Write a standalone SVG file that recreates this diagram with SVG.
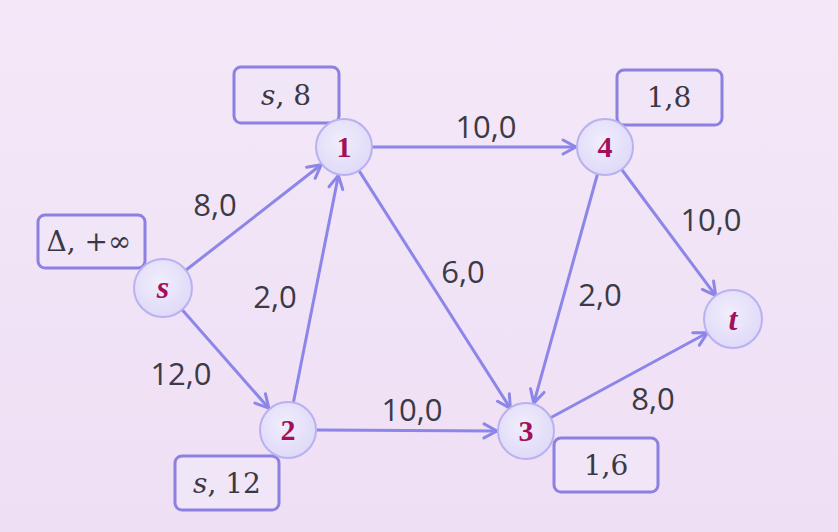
<svg xmlns="http://www.w3.org/2000/svg" width="838" height="532" viewBox="0 0 838 532">
<defs>
<linearGradient id="bg" x1="0" y1="0" x2="0" y2="1">
<stop offset="0" stop-color="#f3e8f8"/>
<stop offset="1" stop-color="#efdff5"/>
</linearGradient>
<radialGradient id="nodefill" cx="0.45" cy="0.4" r="0.7">
<stop offset="0" stop-color="#f1eefc"/>
<stop offset="1" stop-color="#dcd6f7"/>
</radialGradient>
<marker id="arr" markerUnits="userSpaceOnUse" markerWidth="20" markerHeight="20" viewBox="-16 -10 20 20" refX="0" refY="0" orient="auto">
<path d="M-13,-7 L0,0 L-13,7" fill="none" stroke="#8c86e8" stroke-width="3" stroke-linecap="round" stroke-linejoin="round"/>
</marker>
<style>
.node circle{fill:url(#nodefill);stroke:#b9b1f0;stroke-width:2}
.node text{font-family:"Liberation Serif","DejaVu Serif",serif;font-weight:bold;font-size:30px;fill:#a3105a;text-anchor:middle}
.node text.it{font-style:italic;font-size:32px}
.edges line{stroke:#8c86e8;stroke-width:3;marker-end:url(#arr)}
.elabel{font-family:"Open Sans","DejaVu Sans",sans-serif;font-size:31px;fill:#3c3a46;text-anchor:middle}
.box rect{fill:#f1e5f8;stroke:#8c80e0;stroke-width:3}
.box text{font-family:"DejaVu Serif","Liberation Serif",serif;font-size:28px;fill:#3a3844;text-anchor:middle}
</style>
</defs>
<rect width="838" height="532" fill="url(#bg)"/>
<g id="connectors" class="edges">
<line x1="185.1" y1="270.8" x2="321.1" y2="164.8"/>
<line x1="181.5" y1="309" x2="268.8" y2="408.2"/>
<line x1="293.4" y1="402.5" x2="338.4" y2="175.4"/>
<line x1="372" y1="147" x2="576" y2="147"/>
<line x1="359" y1="170.6" x2="510.4" y2="408.5"/>
<line x1="317" y1="430" x2="497" y2="431"/>
<line x1="597.5" y1="174" x2="533.8" y2="403.1"/>
<line x1="621.7" y1="169.5" x2="715.7" y2="295.7"/>
<line x1="550.6" y1="417.7" x2="707.5" y2="332.8"/>
</g>
<g id="edge-labels">
<text class="elabel" x="215" y="216">8,0</text>
<text class="elabel" x="181" y="385">12,0</text>
<text class="elabel" x="275" y="308">2,0</text>
<text class="elabel" x="486" y="138">10,0</text>
<text class="elabel" x="463" y="283">6,0</text>
<text class="elabel" x="412" y="421">10,0</text>
<text class="elabel" x="600" y="306">2,0</text>
<text class="elabel" x="711" y="231">10,0</text>
<text class="elabel" x="653" y="410">8,0</text>
</g>
<g id="label-s" class="box"><rect x="38" y="215" width="107" height="53" rx="7"/><text x="89" y="251">Δ, +∞</text></g>
<g id="label-1" class="box"><rect x="234" y="67" width="105" height="56" rx="7"/><text x="286" y="105"><tspan font-style="italic">s</tspan>, 8</text></g>
<g id="label-2" class="box"><rect x="175" y="456" width="104" height="54" rx="7"/><text x="227" y="493"><tspan font-style="italic">s</tspan>, 12</text></g>
<g id="label-4" class="box"><rect x="617" y="70" width="105" height="55" rx="7"/><text x="669" y="107">1,8</text></g>
<g id="label-3" class="box"><rect x="554" y="438" width="104" height="54" rx="7"/><text x="606" y="475">1,6</text></g>
<g id="node-s" class="node"><circle cx="163" cy="288" r="29"/><text class="it" x="163" y="298">s</text></g>
<g id="node-1" class="node"><circle cx="344" cy="147" r="28"/><text x="344" y="157">1</text></g>
<g id="node-2" class="node"><circle cx="288" cy="430" r="28"/><text x="288" y="440">2</text></g>
<g id="node-3" class="node"><circle cx="526" cy="431" r="28"/><text x="526" y="441">3</text></g>
<g id="node-4" class="node"><circle cx="605" cy="147" r="28"/><text x="605" y="157">4</text></g>
<g id="node-t" class="node"><circle cx="733" cy="319" r="29"/><text class="it" x="733" y="330">t</text></g>
</svg>
